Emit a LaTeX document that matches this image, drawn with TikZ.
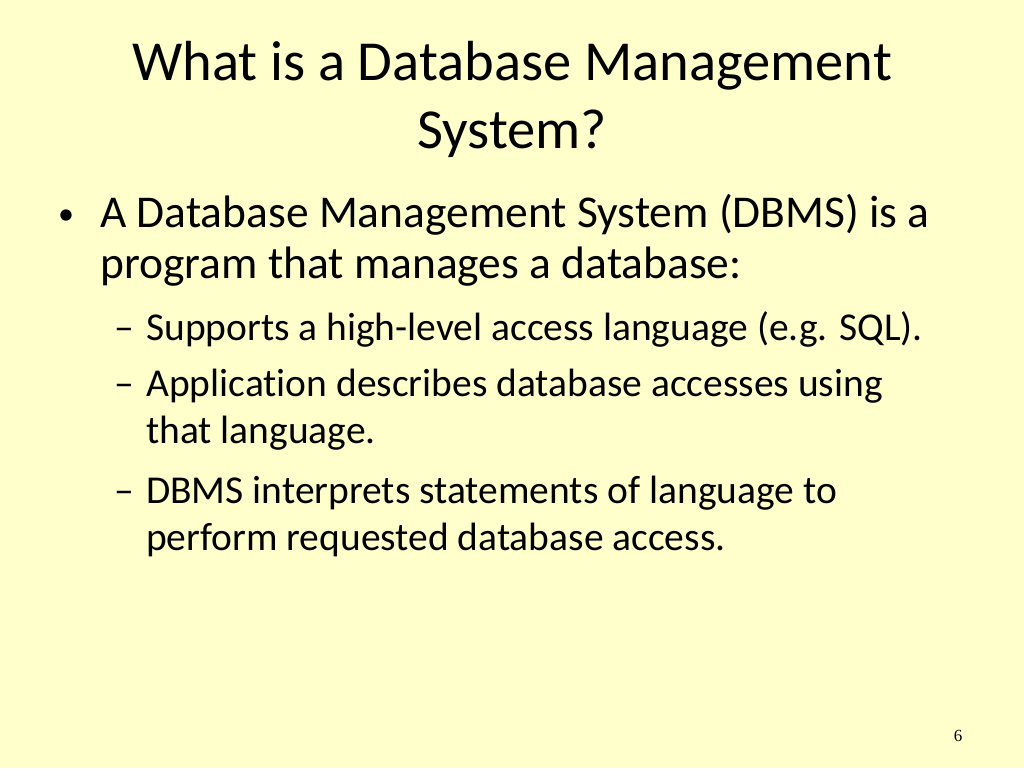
\documentclass[tikz,border=0pt]{standalone}
\usepackage{fontspec}
\setmainfont{Carlito}[Ligatures=NoCommon]
\newfontfamily\numfont{Liberation Serif}
\begin{document}
\begin{tikzpicture}[x=1pt,y=-1pt,
  title/.style={anchor=base,font=\fontsize{56.5}{66}\selectfont,inner sep=0},
  lvone/.style={anchor=base west,font=\fontsize{45.5}{52}\selectfont,inner sep=0},
  lvtwo/.style={anchor=base west,font=\fontsize{39.5}{46}\selectfont,inner sep=0}]
\fill[fill={rgb,255:red,255;green,255;blue,204}] (0,0) rectangle (1024,768);
\useasboundingbox (0,0) rectangle (1024,768);
\node[title] (t1) at (512,80) {What is a Database Management};
\node[title] (t2) at (512,148) {System?};
\node[anchor=base west,font=\fontsize{32}{40}\selectfont,inner sep=0] (b0) at (58,224) {•};
\node[lvone] (b1) at (100,227) {A Database Management System (DBMS) is a};
\node[lvone] (b2) at (100,278) {program that manages a database:};
\node[lvtwo] (d1) at (114,340) {–};
\node[lvtwo] (s1) at (146,340) {Supports a high-level access language (e.g. SQL).};
\node[lvtwo] (d2) at (114,396) {–};
\node[lvtwo] (s2) at (146,396) {Application describes database accesses using};
\node[lvtwo] (s3) at (146,443) {that language.};
\node[lvtwo] (d3) at (114,503) {–};
\node[lvtwo] (s4) at (146,503) {DBMS interprets statements of language to};
\node[lvtwo] (s5) at (146,550) {perform requested database access.};
\node[anchor=base,font=\numfont\fontsize{17}{20}\selectfont,inner sep=0] (pg) at (958,741) {6};
\end{tikzpicture}
\end{document}
